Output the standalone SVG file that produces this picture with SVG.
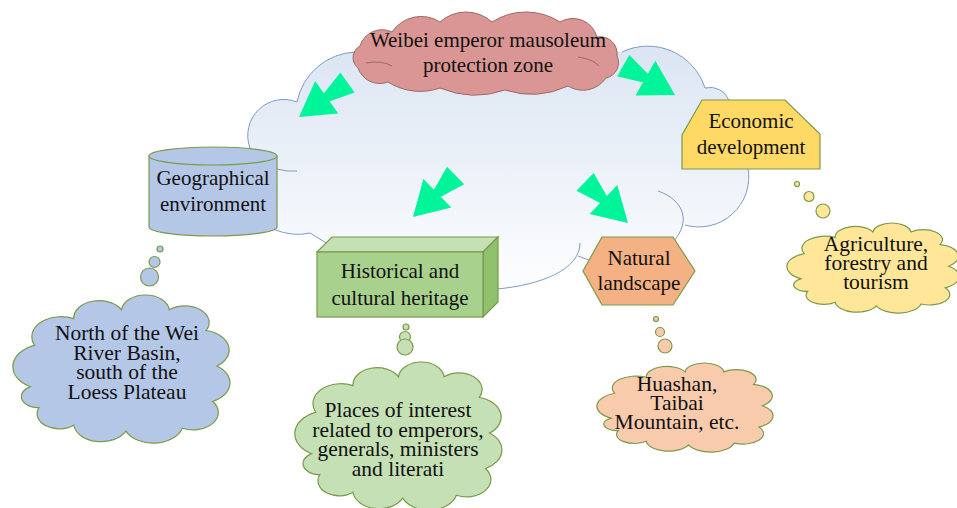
<svg xmlns="http://www.w3.org/2000/svg" xmlns:xlink="http://www.w3.org/1999/xlink" width="957" height="508" viewBox="0 0 957 508">
<style>
  text { font-family: "Liberation Serif", "Times New Roman", serif; font-size: 21px; fill: #111; text-anchor: middle; }
  .note text { font-size: 21.5px; }
  .zone-line { fill: none; stroke: #7d9cc6; stroke-width: 1; }
  .node { stroke: #7a9a4a; stroke-width: 1.2; }
  .thought { stroke: #7a9a4a; stroke-width: 1.2; }
  .arrow { fill: #00f59a; }
</style>
<defs>
  <linearGradient id="zoneGrad" x1="0" y1="0" x2="0" y2="1">
    <stop offset="0" stop-color="#dbe5f3"/>
    <stop offset="1" stop-color="#ffffff"/>
  </linearGradient>
  <g id="dblArrow">
    <polygon points="0,0 -34,-20 -34,20"/>
    <polygon points="-17,0 -59.5,-12.3 -59.5,12.3"/>
  </g>
  <path id="cloudShape" vector-effect="non-scaling-stroke" d="M8,62 A15.4,15.4 0 0 1 10,34 A13.5,13.5 0 0 1 28,16 A11.7,11.7 0 0 1 50,10 A11.05,11.05 0 0 1 72,10 A11.2,11.2 0 0 1 89,24 A13.4,13.4 0 0 1 94,48 A13.9,13.9 0 0 1 92,72 A11.7,11.7 0 0 1 78,90 A13.9,13.9 0 0 1 52,92 A12.7,12.7 0 0 1 28,88 A10.25,10.25 0 0 1 12,76 A7.4,7.4 0 0 1 8,62 Z"/>
</defs>

<!-- background zone cloud -->
<g id="zone-cloud">
  <path fill="url(#zoneGrad)" d="M250,148 A36,36 0 0 1 297,102 A62,62 0 0 1 356,52 L622,52 A60,60 0 0 1 705,88 A20,20 0 0 1 729,101 L748,168 A50,50 0 0 1 685,225 L672,243 L591,261 L578,256 C560,275 530,285 497,289 L420,300 L328,244 L310,233 Q293,237 274,229.5 L200,220 L200,160 Z"/>
  <path class="zone-line" d="M250,148 A36,36 0 0 1 297,102 A62,62 0 0 1 356,52"/>
  <path class="zone-line" d="M622,52 A60,60 0 0 1 705,88 A20,20 0 0 1 729,101"/>
  <path class="zone-line" d="M748,168 A50,50 0 0 1 685,225"/>
  <path class="zone-line" d="M658,191 C684,200 692,222 672,243"/>
  <path class="zone-line" d="M580,243 C580,270 540,285 497,289"/>
  <path class="zone-line" d="M578,256 L591,261"/>
  <path class="zone-line" d="M328,244 L310,233 Q293,237 274,229.5"/>
  <path class="zone-line" d="M277,169 Q287,172 297,171"/>
</g>

<!-- connectors: arrows and thought bubbles -->
<g id="connectors">
  <use href="#dblArrow" class="arrow" transform="translate(299,117) rotate(144.6)"/>
  <use href="#dblArrow" class="arrow" transform="translate(675,95) rotate(29.6)"/>
  <use href="#dblArrow" class="arrow" transform="translate(413,217) rotate(135.7)"/>
  <use href="#dblArrow" class="arrow" transform="translate(628,223) rotate(43.8)"/>

  <g fill="#b4c7e7" class="thought">
    <circle cx="160" cy="249" r="3"/>
    <circle cx="154.5" cy="262" r="5.5"/>
    <circle cx="149.5" cy="277" r="9"/>
  </g>
  <g fill="#c5e0b4" class="thought">
    <circle cx="406" cy="327" r="3"/>
    <circle cx="405" cy="337" r="5.5"/>
    <circle cx="405" cy="347" r="8"/>
  </g>
  <g fill="#f8cbad" class="thought">
    <circle cx="656" cy="319" r="2.5"/>
    <circle cx="660" cy="332" r="4.5"/>
    <circle cx="665" cy="346" r="7"/>
  </g>
  <g fill="#ffe699" class="thought">
    <circle cx="797" cy="184" r="2.5"/>
    <circle cx="809" cy="196.5" r="5"/>
    <circle cx="823" cy="211" r="7"/>
  </g>
</g>

<!-- top node -->
<g id="weibei-zone">
  <path fill="#d99694" stroke="#9b6a66" stroke-width="1" d="M358,68 A13.2,13.2 0 0 1 360,46 A23,23 0 0 1 392,32 A35,35 0 0 1 440,22 A38.8,38.8 0 0 1 492,22 A62.8,62.8 0 0 1 560,22 A25,25 0 0 1 597,37 A17,17 0 0 1 617,56 A15.6,15.6 0 0 1 606,78 A28,28 0 0 1 568,86 A86,86 0 0 1 505,90 A91,91 0 0 1 440,88 A60,60 0 0 1 388,82 A23,23 0 0 1 358,68 Z"/>
  <path fill="none" stroke="#9b6a66" stroke-width="1" d="M366,63 Q382,60 392,66"/>
  <path fill="none" stroke="#9b6a66" stroke-width="1" d="M578,57 Q593,59 599,66"/>
  <text x="488" y="47">Weibei emperor mausoleum</text>
  <text x="488" y="72">protection zone</text>
</g>

<g id="geographical-environment">
  <path class="node" fill="#b4c7e7" d="M149,156 V227 A64,9 0 0 0 277,227 V156 Z"/>
  <ellipse class="node" fill="#b4c7e7" cx="213" cy="156" rx="64" ry="9"/>
  <text x="213" y="185">Geographical</text>
  <text x="213" y="211">environment</text>
</g>

<g id="economic-development">
  <polygon class="node" fill="#ffd966" points="702,100 785,100 820,134 820,169 682,169 682,135"/>
  <text x="751" y="128">Economic</text>
  <text x="751" y="154">development</text>
</g>

<g id="historical-cultural-heritage">
  <polygon class="node" fill="#c5e0b4" points="317,252 332,237 498,237 483,252"/>
  <polygon class="node" fill="#8fc06c" points="483,252 498,237 498,302 483,317"/>
  <rect class="node" fill="#a9d18e" x="317" y="252" width="166" height="65"/>
  <text x="400" y="278">Historical and</text>
  <text x="400" y="305">cultural heritage</text>
</g>

<g id="natural-landscape">
  <polygon class="node" fill="#f4b183" points="583,271 602,237 673,237 695,271 673,305 602,305"/>
  <text x="639" y="265">Natural</text>
  <text x="639" y="290">landscape</text>
</g>

<g id="location-note" class="note">
  <use href="#cloudShape" class="thought" fill="#b4c7e7" transform="translate(13,295) scale(2.17,1.48)"/>
  <text x="127" y="340">North of the Wei</text>
  <text x="127" y="359.5">River Basin,</text>
  <text x="127" y="379">south of the</text>
  <text x="127" y="398.5">Loess Plateau</text>
</g>

<g id="heritage-note" class="note">
  <use href="#cloudShape" class="thought" fill="#c5e0b4" transform="translate(295,362) scale(2.07,1.48)"/>
  <text x="398" y="417">Places of interest</text>
  <text x="398" y="436.5">related to emperors,</text>
  <text x="398" y="456">generals, ministers</text>
  <text x="398" y="475.5">and literati</text>
</g>

<g id="landscape-note" class="note">
  <use href="#cloudShape" class="thought" fill="#f8cbad" transform="translate(597,363) scale(1.76,0.89)"/>
  <text x="677" y="391">Huashan,</text>
  <text x="677" y="410">Taibai</text>
  <text x="677" y="429">Mountain, etc.</text>
</g>

<g id="economy-note" class="note">
  <use href="#cloudShape" class="thought" fill="#ffe699" transform="translate(787,223) scale(1.72,0.9)"/>
  <text x="876" y="251">Agriculture,</text>
  <text x="876" y="270">forestry and</text>
  <text x="876" y="289">tourism</text>
</g>
</svg>
